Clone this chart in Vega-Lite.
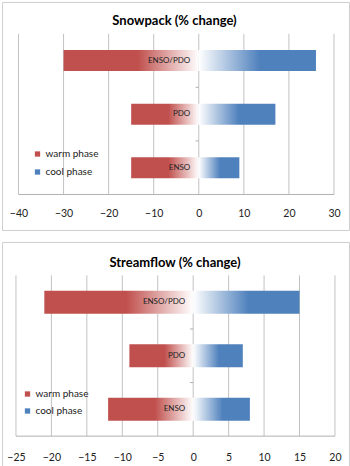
{
  "$schema": "https://vega.github.io/schema/vega-lite/v6.json",
  "padding": {"left": 1, "top": 1, "right": 1, "bottom": 0},
  "spacing": 10,
  "resolve": {"scale": {"color": "independent"}, "legend": {"color": "independent"}},
  "config": {
    "view": {"stroke": "#cfcfcf", "strokeWidth": 1},
    "font": "Lato",
    "axis": {"labelOverlap": false},
    "legend": {"orient": "none", "title": null, "symbolType": "square", "symbolSize": 28, "labelFontSize": 10, "labelColor": "#222", "labelOffset": 3, "padding": 0, "symbolStrokeWidth": 0}
  },
  "datasets": {
    "snow": [
      {"cat": "ENSO/PDO", "idx": 1, "phase": "warm phase", "value": -30},
      {"cat": "ENSO/PDO", "idx": 1, "phase": "cool phase", "value": 26},
      {"cat": "PDO", "idx": 2, "phase": "warm phase", "value": -15},
      {"cat": "PDO", "idx": 2, "phase": "cool phase", "value": 17},
      {"cat": "ENSO", "idx": 3, "phase": "warm phase", "value": -15},
      {"cat": "ENSO", "idx": 3, "phase": "cool phase", "value": 9}
    ],
    "stream": [
      {"cat": "ENSO/PDO", "idx": 1, "phase": "warm phase", "value": -21},
      {"cat": "ENSO/PDO", "idx": 1, "phase": "cool phase", "value": 15},
      {"cat": "PDO", "idx": 2, "phase": "warm phase", "value": -9},
      {"cat": "PDO", "idx": 2, "phase": "cool phase", "value": 7},
      {"cat": "ENSO", "idx": 3, "phase": "warm phase", "value": -12},
      {"cat": "ENSO", "idx": 3, "phase": "cool phase", "value": 8}
    ],
    "snowTicks": [{"t": -40}, {"t": -30}, {"t": -20}, {"t": -10}, {"t": 0}, {"t": 10}, {"t": 20}, {"t": 30}],
    "streamTicks": [{"t": -25}, {"t": -20}, {"t": -15}, {"t": -10}, {"t": -5}, {"t": 0}, {"t": 5}, {"t": 10}, {"t": 15}, {"t": 20}],
    "bounds": [{"b": 1.5}, {"b": 2.5}],
    "snowTitle": [{"title": "Snowpack (% change)"}],
    "streamTitle": [{"title": "Streamflow (% change)"}]
  },
  "vconcat": [
    {
      "width": 347,
      "height": 228,
      "layer": [
        {
          "data": {"name": "snowTicks"},
          "mark": {"type": "rule", "color": "#c2c2c2", "strokeWidth": 1},
          "encoding": {
            "x": {"field": "t", "type": "quantitative", "scale": {"domain": [-43.66, 33.33], "nice": false, "zero": false},
              "axis": {"values": [-40, -30, -20, -10, 0, 10, 20, 30], "tickCount": 20, "grid": false, "domain": false, "ticks": false, "tickSize": 0, "offset": -32, "labelPadding": 10, "labelFont": "Lato", "labelFontSize": 10.5, "labelColor": "#222", "title": null, "labelFlush": false, "labelOverlap": false}},
            "y": {"datum": 0.5, "type": "quantitative", "scale": {"domain": [0, 4.07], "reverse": true, "nice": false, "zero": false}, "axis": null},
            "y2": {"datum": 3.5}
          }
        },
        {
          "data": {"name": "snowTicks"},
          "mark": {"type": "rule", "color": "#b0b0b0", "strokeWidth": 1},
          "encoding": {
            "x": {"aggregate": "min", "field": "t", "type": "quantitative"},
            "x2": {"aggregate": "max", "field": "t"},
            "y": {"datum": 3.5, "type": "quantitative"}
          }
        },
        {
          "data": {"name": "bounds"},
          "mark": {"type": "rule", "color": "#b0b0b0", "strokeWidth": 1},
          "encoding": {
            "x": {"datum": -0.7, "type": "quantitative"},
            "x2": {"datum": 0},
            "y": {"field": "b", "type": "quantitative"}
          }
        },
        {
          "data": {"name": "snow"},
          "mark": {"type": "bar", "height": 21},
          "encoding": {
            "x": {"field": "value", "type": "quantitative"},
            "x2": {"datum": 0},
            "y": {"field": "idx", "type": "quantitative"},
            "color": {
              "field": "phase", "type": "nominal",
              "scale": {"domain": ["warm phase", "cool phase"], "range": ["#C0504D", "#4F81BD"]},
              "legend": {"legendX": 30.5, "legendY": 147, "rowPadding": 8},
              "condition": [
                {"test": "datum.phase === 'warm phase'", "value": {"gradient": "linear", "x1": 0, "y1": 0, "x2": 1, "y2": 0, "stops": [{"offset": 0, "color": "#C0504D"}, {"offset": 0.55, "color": "#C0504D"}, {"offset": 1, "color": "#ffffff"}]}},
                {"test": "datum.phase === 'cool phase'", "value": {"gradient": "linear", "x1": 0, "y1": 0, "x2": 1, "y2": 0, "stops": [{"offset": 0, "color": "#ffffff"}, {"offset": 0.52, "color": "#4F81BD"}, {"offset": 1, "color": "#4F81BD"}]}}
              ]
            }
          }
        },
        {
          "data": {"name": "snow"},
          "transform": [{"filter": "datum.phase === 'warm phase'"}],
          "mark": {"type": "text", "align": "right", "baseline": "middle", "dx": -8.5, "fontSize": 8, "font": "Lato", "color": "#222"},
          "encoding": {
            "x": {"datum": 0, "type": "quantitative"},
            "y": {"field": "idx", "type": "quantitative"},
            "text": {"field": "cat"}
          }
        },
        {
          "data": {"name": "snowTitle"},
          "mark": {"type": "text", "align": "center", "baseline": "middle", "fontSize": 13, "fontWeight": "bold", "font": "Lato", "color": "#000"},
          "encoding": {
            "x": {"datum": -5.39, "type": "quantitative"},
            "y": {"datum": 0.268, "type": "quantitative"},
            "text": {"field": "title"}
          }
        }
      ]
    },
    {
      "width": 347,
      "height": 227,
      "layer": [
        {
          "data": {"name": "streamTicks"},
          "mark": {"type": "rule", "color": "#c2c2c2", "strokeWidth": 1},
          "encoding": {
            "x": {"field": "t", "type": "quantitative", "scale": {"domain": [-26.97, 21.98], "nice": false, "zero": false},
              "axis": {"values": [-25, -20, -15, -10, -5, 0, 5, 10, 15, 20], "tickCount": 20, "grid": false, "domain": false, "ticks": false, "tickSize": 0, "offset": -29, "labelPadding": 12, "labelFont": "Lato", "labelFontSize": 10.5, "labelColor": "#222", "title": null, "labelFlush": false, "labelOverlap": false}},
            "y": {"datum": 0.5, "type": "quantitative", "scale": {"domain": [-0.03, 4.02], "reverse": true, "nice": false, "zero": false}, "axis": null},
            "y2": {"datum": 3.5}
          }
        },
        {
          "data": {"name": "streamTicks"},
          "mark": {"type": "rule", "color": "#b0b0b0", "strokeWidth": 1},
          "encoding": {
            "x": {"aggregate": "min", "field": "t", "type": "quantitative"},
            "x2": {"aggregate": "max", "field": "t"},
            "y": {"datum": 3.5, "type": "quantitative"}
          }
        },
        {
          "data": {"name": "bounds"},
          "mark": {"type": "rule", "color": "#b0b0b0", "strokeWidth": 1},
          "encoding": {
            "x": {"datum": -0.45, "type": "quantitative"},
            "x2": {"datum": 0},
            "y": {"field": "b", "type": "quantitative"}
          }
        },
        {
          "data": {"name": "stream"},
          "mark": {"type": "bar", "height": 23},
          "encoding": {
            "x": {"field": "value", "type": "quantitative"},
            "x2": {"datum": 0},
            "y": {"field": "idx", "type": "quantitative"},
            "color": {
              "field": "phase", "type": "nominal",
              "scale": {"domain": ["warm phase", "cool phase"], "range": ["#C0504D", "#4F81BD"]},
              "legend": {"legendX": 20.5, "legendY": 147, "rowPadding": 7},
              "condition": [
                {"test": "datum.phase === 'warm phase'", "value": {"gradient": "linear", "x1": 0, "y1": 0, "x2": 1, "y2": 0, "stops": [{"offset": 0, "color": "#C0504D"}, {"offset": 0.55, "color": "#C0504D"}, {"offset": 1, "color": "#ffffff"}]}},
                {"test": "datum.phase === 'cool phase'", "value": {"gradient": "linear", "x1": 0, "y1": 0, "x2": 1, "y2": 0, "stops": [{"offset": 0, "color": "#ffffff"}, {"offset": 0.52, "color": "#4F81BD"}, {"offset": 1, "color": "#4F81BD"}]}}
              ]
            }
          }
        },
        {
          "data": {"name": "stream"},
          "transform": [{"filter": "datum.phase === 'warm phase'"}],
          "mark": {"type": "text", "align": "right", "baseline": "middle", "dx": -8, "fontSize": 8, "font": "Lato", "color": "#222"},
          "encoding": {
            "x": {"datum": 0, "type": "quantitative"},
            "y": {"field": "idx", "type": "quantitative"},
            "text": {"field": "cat"}
          }
        },
        {
          "data": {"name": "streamTitle"},
          "mark": {"type": "text", "align": "center", "baseline": "middle", "fontSize": 13, "fontWeight": "bold", "font": "Lato", "color": "#000"},
          "encoding": {
            "x": {"datum": -2.57, "type": "quantitative"},
            "y": {"datum": 0.268, "type": "quantitative"},
            "text": {"field": "title"}
          }
        }
      ]
    }
  ]
}
